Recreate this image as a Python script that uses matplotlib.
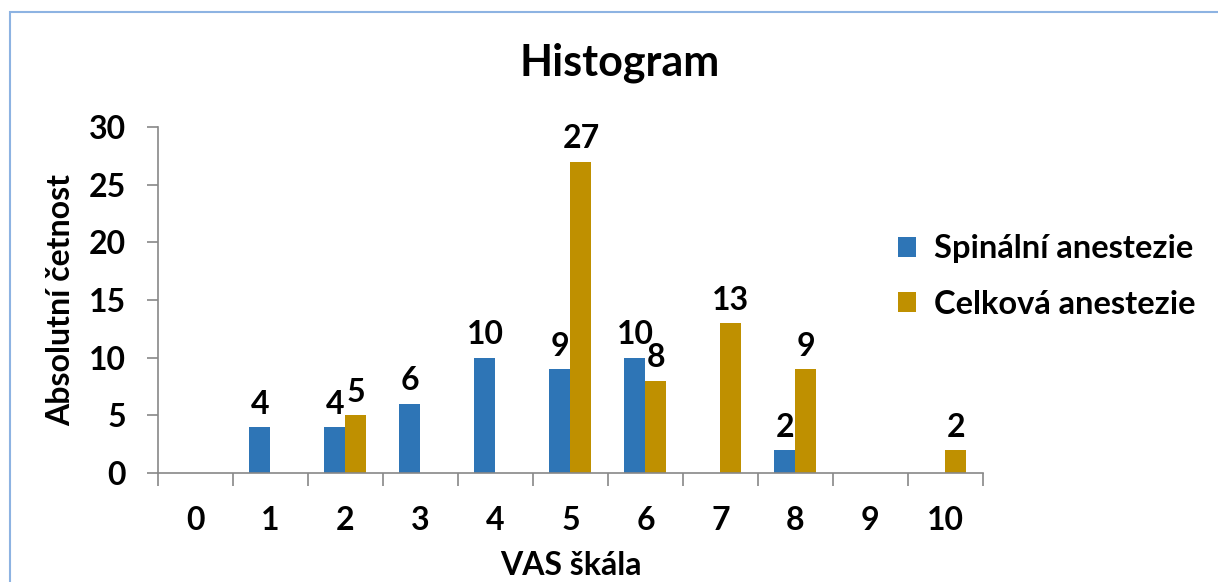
import numpy as np
import matplotlib.pyplot as plt
from matplotlib.patches import Rectangle

# Data
kategorie = ['0', '1', '2', '3', '4', '5', '6', '7', '8', '9', '10']
spinalni = [0, 4, 4, 6, 10, 9, 10, 0, 2, 0, 0]
celkova = [0, 0, 5, 0, 0, 27, 8, 13, 9, 0, 2]
nazvy = ['Spinální anestezie', 'Celková anestezie']
barvy = ['#2e75b6', '#bf9000']

plt.rcParams['font.family'] = ['Lato', 'DejaVu Sans']
plt.rcParams['font.weight'] = 'bold'

fig = plt.figure(figsize=(12.18, 5.82), dpi=100)
ax = fig.add_axes([0.1297, 0.1873, 0.6773, 0.5945])

x = np.arange(len(kategorie))
w = 0.28
b1 = ax.bar(x - w/2, spinalni, w, color=barvy[0], label=nazvy[0])
b2 = ax.bar(x + w/2, celkova, w, color=barvy[1], label=nazvy[1])

# popisky jen u nenulovych hodnot
for bars, vals in ((b1, spinalni), (b2, celkova)):
    for r, v in zip(bars, vals):
        if v > 0:
            ax.annotate(str(v), (r.get_x() + r.get_width()/2, v),
                        xytext=(0, 6), textcoords='offset points',
                        ha='center', va='bottom', fontsize=23, fontweight='bold')

ax.set_xlim(-0.5, len(kategorie) - 0.5)
ax.set_ylim(0, 30)
ax.set_yticks(range(0, 31, 5))
ax.set_xticks(x)
ax.set_xticklabels(kategorie)
ax.set_xticks(np.arange(-0.5, len(kategorie), 1), minor=True)
ax.tick_params(axis='x', which='major', length=0, pad=24, labelsize=23)
ax.tick_params(axis='x', which='minor', length=9, color='#888888', width=1.2)
ax.tick_params(axis='y', length=8, color='#888888', width=1.2, pad=15, labelsize=23)

for s in ('top', 'right'):
    ax.spines[s].set_visible(False)
for s in ('left', 'bottom'):
    ax.spines[s].set_color('#888888')
    ax.spines[s].set_linewidth(1.2)

ax.set_xlabel('VAS škála', fontsize=23, fontweight='bold', labelpad=11)
ax.set_ylabel('Absolutní četnost', fontsize=23, fontweight='bold', labelpad=10)

fig.text(0.509, 0.893, 'Histogram', ha='center', va='center', fontsize=31, fontweight='bold')

leg = fig.legend(loc='center left', bbox_to_anchor=(0.713, 0.525), frameon=False,
                 fontsize=23.5, handlelength=0.55, handleheight=0.55, handletextpad=0.55,
                 labelspacing=0.8)

# svetle modry ramecek kolem grafu
fig.patches.append(Rectangle((10/1218, -0.01), 1.0, 1 - 12/582 + 0.01,
                             transform=fig.transFigure, fill=False,
                             edgecolor='#8db3e2', linewidth=1.5))

fig.savefig('out.png', dpi=100, facecolor='white')
